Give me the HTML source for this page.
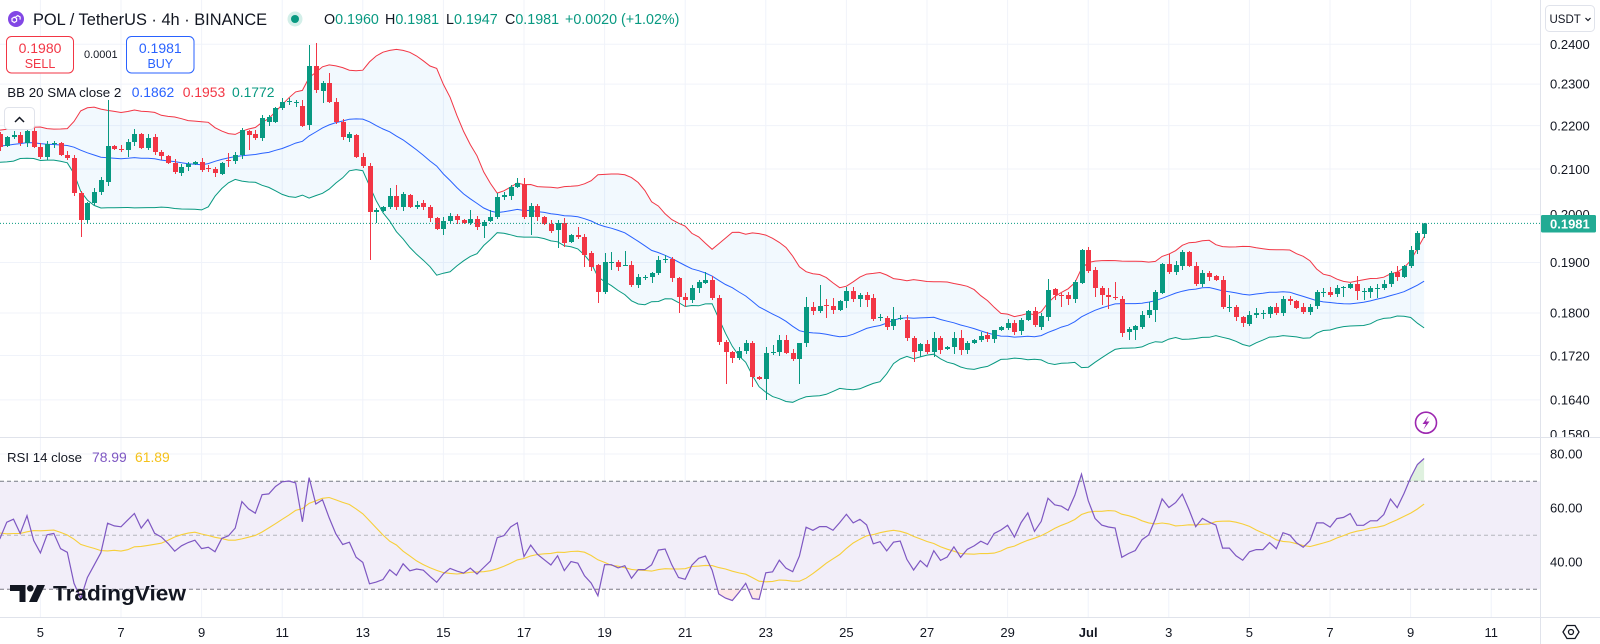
<!DOCTYPE html>
<html><head><meta charset="utf-8">
<style>
html,body{margin:0;padding:0;background:#fff;}
body{width:1600px;height:644px;overflow:hidden;position:relative;font-family:"Liberation Sans",Arial,sans-serif;}
svg{position:absolute;left:0;top:0;}
text{font-family:"Liberation Sans",Arial,sans-serif;}
</style></head><body>
<svg id="s" width="1600" height="644" viewBox="0 0 1600 644" xmlns="http://www.w3.org/2000/svg">
<defs>
<clipPath id="cp"><rect x="0" y="0" width="1540" height="437"/></clipPath>
<clipPath id="cr"><rect x="0" y="438" width="1540" height="179"/></clipPath>
<clipPath id="cob"><rect x="0" y="438" width="1540" height="43.3"/></clipPath>
<clipPath id="cos"><rect x="0" y="589.3" width="1540" height="28"/></clipPath>
<clipPath id="cax"><rect x="1541" y="0" width="59" height="437"/></clipPath>
</defs>
<rect x="0" y="0" width="1600" height="644" fill="#ffffff"/>
<g id="grid"></g>
<rect x="0" y="481.3" width="1540" height="108" fill="#f2eef9"/>
<line x1="0" y1="481.3" x2="1540" y2="481.3" stroke="#787b86" stroke-dasharray="4 3" stroke-width="1"/>
<line x1="0" y1="535.3" x2="1540" y2="535.3" stroke="#b4b6be" stroke-dasharray="4 3" stroke-width="1"/>
<line x1="0" y1="589.3" x2="1540" y2="589.3" stroke="#787b86" stroke-dasharray="4 3" stroke-width="1"/>
<g id="price" clip-path="url(#cp)"></g>
<g id="rsi" clip-path="url(#cr)"></g>
<!-- pane borders -->
<line x1="0" y1="437.5" x2="1600" y2="437.5" stroke="#e0e3eb" stroke-width="1"/>
<line x1="0" y1="617.5" x2="1600" y2="617.5" stroke="#e0e3eb" stroke-width="1"/>
<line x1="1540.5" y1="0" x2="1540.5" y2="644" stroke="#e0e3eb" stroke-width="1"/>
<!-- current price line -->
<line x1="0" y1="223.4" x2="1540" y2="223.4" stroke="#089981" stroke-width="1" stroke-dasharray="1 2"/>

<!-- header -->
<circle cx="16" cy="19" r="8" fill="#8247e5"/>
<path d="M12 18.5 l2.3-1.4 l2.3 1.4 v2.6 l-2.3 1.4 l-2.3-1.4z M15.5 17 l2.3-1.4 l2.3 1.4 v2.6" fill="none" stroke="#fff" stroke-width="1.2"/>
<text x="33" y="24.8" font-size="16.4" fill="#131722">POL / TetherUS · 4h · BINANCE</text>
<circle cx="295" cy="19" r="7.5" fill="#d3efe9"/>
<circle cx="295" cy="19" r="4" fill="#089981"/>
<text y="24" font-size="14.3" fill="#131722"><tspan x="324">O</tspan><tspan fill="#089981">0.1960</tspan><tspan x="385">H</tspan><tspan fill="#089981">0.1981</tspan><tspan x="446">L</tspan><tspan fill="#089981">0.1947</tspan><tspan x="505">C</tspan><tspan fill="#089981">0.1981</tspan><tspan x="565" fill="#089981">+0.0020</tspan><tspan x="621" fill="#089981">(+1.02%)</tspan></text>

<rect x="6.5" y="36.5" width="67" height="36.5" rx="5" fill="#fff" stroke="#f23645" stroke-width="1"/>
<text x="40" y="53" font-size="14" fill="#f23645" text-anchor="middle">0.1980</text>
<text x="40" y="68" font-size="12.5" fill="#f23645" text-anchor="middle">SELL</text>
<text x="84" y="58" font-size="11" fill="#131722">0.0001</text>
<rect x="126.5" y="36.5" width="67.5" height="36.5" rx="5" fill="#fff" stroke="#2962ff" stroke-width="1"/>
<text x="160.3" y="53" font-size="14" fill="#2962ff" text-anchor="middle">0.1981</text>
<text x="160.3" y="68" font-size="12.5" fill="#2962ff" text-anchor="middle">BUY</text>

<text x="7.3" y="96.8" font-size="13" fill="#131722" textLength="114" lengthAdjust="spacingAndGlyphs">BB 20 SMA close 2</text>
<text x="131.7" y="97" font-size="13.9" fill="#2962ff">0.1862</text>
<text x="182.7" y="97" font-size="13.9" fill="#f23645">0.1953</text>
<text x="232" y="97" font-size="13.9" fill="#089981">0.1772</text>

<rect x="4.5" y="107.5" width="30" height="22" rx="4" fill="#fff" stroke="#e0e3eb"/>
<path d="M15 122 L19.5 117.5 L24 122" fill="none" stroke="#131722" stroke-width="1.5"/>

<!-- RSI legend -->
<text x="7" y="461.8" font-size="13" fill="#131722" textLength="75" lengthAdjust="spacingAndGlyphs">RSI 14 close</text>
<text x="92" y="462" font-size="13.9" fill="#7e57c2">78.99</text>
<text x="135" y="462" font-size="13.9" fill="#f5c21b">61.89</text>

<!-- TradingView logo -->
<path d="M10 585 H25.5 V602 H19.5 V591 H10 Z" fill="#131722"/>
<circle cx="30.3" cy="588.3" r="3.3" fill="#131722"/>
<path d="M37 585 H45 L37 602 H29 Z" fill="#131722"/>
<text x="53" y="600.5" font-size="21" font-weight="bold" fill="#131722" textLength="133" lengthAdjust="spacingAndGlyphs">TradingView</text>

<!-- price axis -->
<g clip-path="url(#cax)" font-size="13" fill="#131722">
<text x="1550" y="48.9">0.2400</text>
<text x="1550" y="88.6">0.2300</text>
<text x="1550" y="130.4">0.2200</text>
<text x="1550" y="174.1">0.2100</text>
<text x="1550" y="219.2">0.2000</text>
<text x="1550" y="267.1">0.1900</text>
<text x="1550" y="317.6">0.1800</text>
<text x="1550" y="360.3">0.1720</text>
<text x="1550" y="404.6">0.1640</text>
<text x="1550" y="439">0.1580</text>
</g>
<rect x="1541" y="215" width="55" height="17.5" rx="1.5" fill="#22ab94"/>
<text x="1550" y="228.3" font-size="13" font-weight="bold" fill="#ffffff">0.1981</text>
<rect x="1545.5" y="5.5" width="49" height="26" rx="4" fill="#fff" stroke="#e0e3eb"/>
<text x="1549.5" y="23" font-size="11.5" fill="#131722">USDT</text>
<path d="M1585.5 18 L1588 20.5 L1590.5 18" fill="none" stroke="#131722" stroke-width="1.2"/>

<g font-size="13" fill="#131722">
<text x="1550" y="458.6">80.00</text>
<text x="1550" y="512.6">60.00</text>
<text x="1550" y="566.6">40.00</text>
</g>

<!-- time axis -->
<g font-size="13" fill="#131722" text-anchor="middle">
<text x="40.4" y="637">5</text>
<text x="121" y="637">7</text>
<text x="201.6" y="637">9</text>
<text x="282.2" y="637">11</text>
<text x="362.8" y="637">13</text>
<text x="443.4" y="637">15</text>
<text x="524" y="637">17</text>
<text x="604.6" y="637">19</text>
<text x="685.2" y="637">21</text>
<text x="765.8" y="637">23</text>
<text x="846.4" y="637">25</text>
<text x="927" y="637">27</text>
<text x="1007.6" y="637">29</text>
<text x="1088.2" y="637" font-weight="bold">Jul</text>
<text x="1168.8" y="637">3</text>
<text x="1249.4" y="637">5</text>
<text x="1330" y="637">7</text>
<text x="1410.6" y="637">9</text>
<text x="1491.2" y="637">11</text>
</g>
<path d="M1563 632 L1567 625.5 L1575 625.5 L1579 632 L1575 638.5 L1567 638.5 Z" fill="none" stroke="#131722" stroke-width="1.3"/>
<circle cx="1571" cy="632" r="2.5" fill="none" stroke="#131722" stroke-width="1.3"/>

<!-- lightning -->
<circle cx="1426" cy="422.7" r="10.5" fill="#fff" stroke="#9c27b0" stroke-width="1.6"/>
<path d="M1428.5 416 L1422.5 424 L1426 424 L1423.5 429.5 L1429.5 421.5 L1426 421.5 Z" fill="#9c27b0"/>
</svg>
<script>
(function(){
var Y0=44.3,S=934;
function yp(p){return Y0-S*Math.log(p/0.24);}
function py(y){return 0.24*Math.exp((Y0-y)/S);}
function xk(k){return 40.4+k*6.717;}
var data=[[-6,134,147],[-5,146,137],[-4,137,135],[-3,135,143],[-2,143,131],[-1,131,147],[0,147,157],[1,157,144],[2,144,143],[3,143,155],[4,155,158],[5,158,193],[6,193,220],[7,220,203],[8,203,192],[9,192,180],[10,182,146],[11,146,149],[12,149,150],[13,150,142],[14,142,134],[15,134,148],[16,148,138],[17,137,152],[18,152,156],[19,156,163],[20,163,172],[21,173,167],[22,167,164],[23,164,162],[24,162,170],[25,168,169],[26,169,173],[27,174,163],[28,160,161],[29,161,155],[30,155,130],[31,131,135],[32,134,138],[33,138,118],[34,122,117],[35,122,108],[36,108,102],[37,102,101],[38,103,102],[39,106,126],[40,125,66],[41,66,90],[42,91,83],[43,83,102],[44,102,122],[45,122,137],[46,138,134],[47,135,157],[48,157,166],[49,166,212],[50,212,210],[51,211,207],[52,207,196],[53,196,207],[54,207,194],[55,195,207],[56,207,205],[57,203,207],[58,207,218],[59,218,229],[60,229,221],[61,221,216],[62,216,220],[63,220,223],[64,223,219],[65,219,227],[66,226,222],[67,221,217],[68,217,197],[69,197,195],[70,196,187],[71,187,183],[72,184,217],[73,217,206],[74,206,217],[75,217,224],[76,224,231],[77,230,223],[78,223,243],[79,242,235],[80,235,237],[81,237,255],[82,253,267],[83,265,292],[84,292,262],[85,262,262],[86,262,267],[87,265,265],[88,265,285],[89,285,277],[90,277,277],[91,277,273],[92,273,260],[93,260,259],[94,259,278],[95,278,297],[96,297,300],[97,300,288],[98,288,282],[99,283,280],[100,280,298],[101,298,342],[102,342,352],[103,352,358],[104,358,351],[105,351,343],[106,343,377],[107,377,379],[108,379,353],[109,352,352],[110,352,340],[111,340,353],[112,353,359],[113,359,343],[114,343,307],[115,307,311],[116,311,306],[117,305,306],[118,306,310],[119,310,301],[120,301,291],[121,291,299],[122,299,295],[123,295,300],[124,298,319],[125,318,317],[126,318,327],[127,326,319],[128,318,318],[129,320,338],[130,338,352],[131,351,344],[132,344,352],[133,352,338],[134,338,350],[135,349,347],[136,347,338],[137,338,350],[138,350,343],[139,343,340],[140,340,336],[141,335,339],[142,339,330],[143,330,327],[144,328,323],[145,323,332],[146,331,320],[147,320,311],[148,311,325],[149,327,316],[150,317,290],[151,289,295],[152,295,296],[153,295,299],[154,299,282],[155,283,250],[156,250,271],[157,270,288],[158,288,295],[159,295,297],[160,297,298],[161,299,333],[162,332,329],[163,330,326],[164,327,315],[165,315,310],[166,310,292],[167,293,264],[168,264,272],[169,272,265],[170,266,252],[171,252,266],[172,266,284],[173,284,273],[174,273,277],[175,276,280],[176,280,307],[177,307,307],[178,307,317],[179,317,323],[180,324,315],[181,315,313],[182,313,313],[183,314,307],[184,307,313],[185,313,299],[186,299,301],[187,301,308],[188,307,312],[189,312,307],[190,306,292],[191,292,292],[192,292,295],[193,294,288],[194,287,287],[195,288,284],[196,284,291],[197,291,291],[198,292,288],[199,288,288],[200,288,284],[201,284,273],[202,272,277],[203,277,266],[204,266,250],[205,250,233],[206,234,223.4]];
var H={"-1":125,10:100,14:129,28:153,39:100,40:45,41:43,43:73,52:188,53:185,64:210,67:210,71:178,72:178,78:218,80:227,84:253,85:252,87:251,93:255,99:272,108:347,109:345,110:335,111:335,113:343,114:297,115:302,116:285,117:299,118:298,121:287,123:292,127:307,128:315,129:315,133:332,136:332,137:330,142:333,150:279,152:293,156:247,159:288,160:282,165:302,168:254,169:261,170:250,174:271,177:295,181:308,182:310,183:306,186:296,191:288,192:287,194:286,196:276,197:288,199:284,201:271,202:266,205:231,206:223};
var L={6:237,7:224,13:157,28:167,31:150,40:130,42:103,49:260,50:223,60:235,66:238,73:235,77:248,81:267,83:303,85:270,90:280,91:283,95:313,96:307,98:293,102:384,103:363,106:387,108:400,113:384,115:315,117:318,120:308,122:307,123:307,126:330,127:330,130:362,131:357,133:357,136:354,137:355,151:300,152:307,153:305,157:297,158:305,159:309,161:337,162:340,163:340,166:322,177:312,179:327,182:319,183:318,190:309,191:297,192:297,194:297,196:300,197:300,198:298,199:298,205:254};
var W=60, closes=[];
for(var i=0;i<W;i++) closes.push(0.2153+0.0026*Math.sin(i*0.7)+0.0008*Math.sin(i*2.3));
data.forEach(function(d){closes.push(py(d[2]));});
function kOf(i){return i-W-6;}
// grid
var g='';
for(var n=0;n<19;n++){var x=(40.4+n*80.6).toFixed(1);g+='<line x1="'+x+'" y1="0" x2="'+x+'" y2="617" stroke="#f0f3fa" stroke-width="1"/>';}
[0.24,0.23,0.22,0.21,0.20,0.19,0.18,0.172,0.164].forEach(function(p){var y=yp(p).toFixed(1);g+='<line x1="0" y1="'+y+'" x2="1540" y2="'+y+'" stroke="#f0f3fa" stroke-width="1"/>';});
[454,508,562].forEach(function(y){g+='<line x1="0" y1="'+y+'" x2="1540" y2="'+y+'" stroke="#f0f3fa" stroke-width="1"/>';});
document.getElementById('grid').innerHTML=g;
// BB
var up=[],md=[],lw=[];
for(var i=19;i<closes.length;i++){
 var k=kOf(i); if(k<-8) continue;
 var s=0,j; for(j=i-19;j<=i;j++) s+=closes[j]; var m=s/20;
 var v=0; for(j=i-19;j<=i;j++) v+=(closes[j]-m)*(closes[j]-m); var sd=Math.sqrt(v/20);
 var x=xk(k).toFixed(1);
 up.push(x+','+yp(m+2*sd).toFixed(1)); md.push(x+','+yp(m).toFixed(1)); lw.push(x+','+yp(m-2*sd).toFixed(1));
}
var out='';
out+='<polygon points="'+up.join(' ')+' '+lw.slice().reverse().join(' ')+'" fill="rgba(33,150,243,0.06)"/>';
out+='<polyline points="'+up.join(' ')+'" fill="none" stroke="#f23645" stroke-width="1"/>';
out+='<polyline points="'+md.join(' ')+'" fill="none" stroke="#2962ff" stroke-width="1"/>';
out+='<polyline points="'+lw.join(' ')+'" fill="none" stroke="#089981" stroke-width="1"/>';
// candles
data.forEach(function(d){
 var k=d[0],o=d[1],c=d[2];
 var upC=(c<o)||(c===o);
 var col=upC?'#089981':'#f23645';
 var top=Math.min(o,c),bot=Math.max(o,c);
 var kk=k+100;
 var hi=(H[k]!==undefined)?H[k]:top-(1+((kk*7+3)%4));
 var lo=(L[k]!==undefined)?L[k]:bot+(1+((kk*5+1)%4));
 hi=Math.min(hi,top); lo=Math.max(lo,bot);
 var cx=Math.round(xk(k));
 out+='<rect x="'+cx+'" y="'+hi.toFixed(1)+'" width="1" height="'+(lo-hi).toFixed(1)+'" fill="'+col+'"/>';
 var h=Math.max(bot-top,1);
 out+='<rect x="'+(cx-2)+'" y="'+top.toFixed(1)+'" width="5" height="'+h.toFixed(1)+'" fill="'+col+'"/>';
});
document.getElementById('price').innerHTML=out;
// RSI
var rsi=[],ag=0,al=0;
for(var i=1;i<closes.length;i++){
 var ch=closes[i]-closes[i-1],gg=Math.max(ch,0),ll=Math.max(-ch,0);
 if(i<=14){ag+=gg;al+=ll;if(i===14){ag/=14;al/=14;rsi[i]=al===0?100:100-100/(1+ag/al);}}
 else{ag=(ag*13+gg)/14;al=(al*13+ll)/14;rsi[i]=al===0?100:100-100/(1+ag/al);}
}
function yr(v){return 454+(80-v)*2.7;}
var rp=[],mp=[];
for(var i=28;i<closes.length;i++){
 var k=kOf(i); if(k<-8) continue;
 var x=xk(k).toFixed(1);
 rp.push(x+','+yr(rsi[i]).toFixed(1));
 var s=0; for(var j=i-13;j<=i;j++) s+=rsi[j];
 mp.push(x+','+yr(s/14).toFixed(1));
}
var first=rp[0].split(',')[0], last=rp[rp.length-1].split(',')[0];
var ro='';
ro+='<g clip-path="url(#cob)"><polygon points="'+first+',481.3 '+rp.join(' ')+' '+last+',481.3" fill="rgba(76,175,80,0.18)"/></g>';
ro+='<g clip-path="url(#cos)"><polygon points="'+first+',589.3 '+rp.join(' ')+' '+last+',589.3" fill="rgba(242,54,69,0.12)"/></g>';
ro+='<polyline points="'+mp.join(' ')+'" fill="none" stroke="#f7cf3a" stroke-width="1.1"/>';
ro+='<polyline points="'+rp.join(' ')+'" fill="none" stroke="#7e57c2" stroke-width="1.2"/>';
document.getElementById('rsi').innerHTML=ro;
})();
</script>
</body></html>
